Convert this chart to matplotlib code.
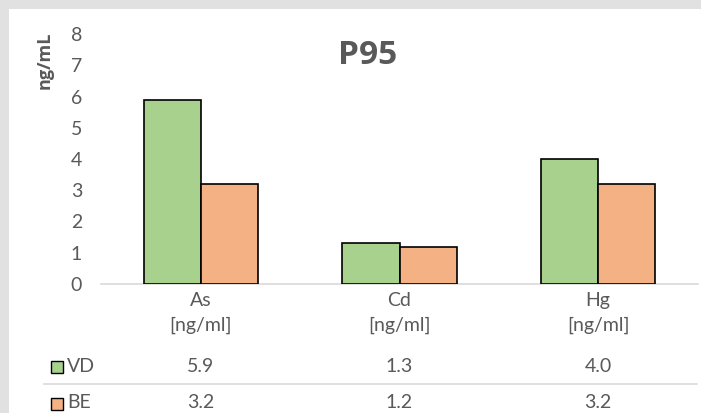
import matplotlib.pyplot as plt
import matplotlib.transforms as mtransforms
from matplotlib.patches import Rectangle
import numpy as np

# === Daten ===
categories = ["As", "Cd", "Hg"]
unit_label = "[ng/ml]"
series_names = ["VD", "BE"]
vd_values = [5.9, 1.3, 4.0]
be_values = [3.2, 1.2, 3.2]
table_text_vd = ["5.9", "1.3", "4.0"]
table_text_be = ["3.2", "1.2", "3.2"]

# === Stil ===
W, H = 701, 413
green = "#A9D18E"
orange = "#F4B183"
text_gray = "#595959"
line_gray = "#D9D9D9"
bg_gray = "#E1E1E1"
font = "Lato"
fs = 14

plt.rcParams["font.family"] = [font, "DejaVu Sans"]

fig = plt.figure(figsize=(W / 100, H / 100), dpi=100, facecolor=bg_gray)

# weisses Panel (hinter allem)
fig.patches.append(Rectangle((9 / W, 0), 1, 1 - 9 / H, transform=fig.transFigure,
                             facecolor="white", edgecolor="none", zorder=-10))


def fx(px):
    return px / W


def fy(py):
    return 1 - py / H


ax = fig.add_axes([fx(101.5), fy(284), fx(697.5) - fx(101.5), fy(34) - fy(284)])
ax.set_facecolor("none")

x = np.arange(len(categories))
bw = 0.287
ax.bar(x - bw / 2, vd_values, bw, color=green, edgecolor="black", linewidth=1.2, zorder=3)
ax.bar(x + bw / 2, be_values, bw, color=orange, edgecolor="black", linewidth=1.2, zorder=3)

ax.set_xlim(-0.5, len(categories) - 0.5)
ax.set_ylim(0, 8)
ax.set_yticks(range(0, 9))
ax.tick_params(axis="y", length=0, pad=14, labelsize=fs, labelcolor=text_gray)
ax.set_xticks(x)
ax.set_xticklabels([c + "\n" + unit_label for c in categories], linespacing=1.5)
ax.tick_params(axis="x", length=0, pad=6, labelsize=fs, labelcolor=text_gray)

for s in ["top", "right", "left"]:
    ax.spines[s].set_visible(False)
ax.spines["bottom"].set_color(line_gray)
ax.spines["bottom"].set_linewidth(1.2)

# Titel und Achsentitel
fig.text(fx(368), fy(56), "P95", ha="center", va="center", fontsize=24,
         fontweight="bold", color=text_gray, family="Open Sans")
fig.text(fx(45), fy(60), "ng/mL", ha="center", va="center", rotation=90,
         fontsize=13, fontweight="bold", color=text_gray, family="Open Sans")

# Datentabelle
trans = mtransforms.blended_transform_factory(ax.transData, fig.transFigure)
rows = [(series_names[0], table_text_vd, green, 366), (series_names[1], table_text_be, orange, 403)]
for name, vals, col, ypx in rows:
    for xi, v in zip(x, vals):
        ax.text(xi, fy(ypx), v, transform=trans, ha="center", va="center",
                fontsize=fs, color=text_gray)
    fig.patches.append(Rectangle((fx(51), fy(ypx + 6.5)), fx(12), 12 / H,
                                 transform=fig.transFigure, facecolor=col,
                                 edgecolor="black", linewidth=1.0))
    fig.text(fx(67), fy(ypx), name, ha="left", va="center", fontsize=fs, color=text_gray)

fig.add_artist(plt.Line2D([fx(44), fx(697)], [fy(384), fy(384)], color=line_gray,
                          linewidth=1.2, transform=fig.transFigure))

fig.savefig("out.png", dpi=100, facecolor=bg_gray)
